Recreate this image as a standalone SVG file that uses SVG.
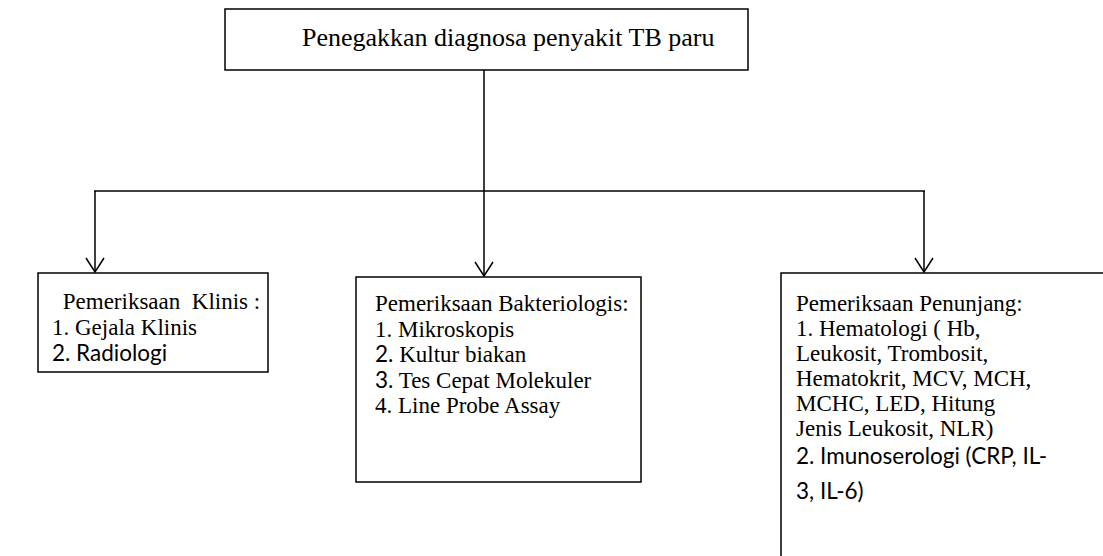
<svg xmlns="http://www.w3.org/2000/svg" width="1103" height="556" viewBox="0 0 1103 556">
<style>
.box{fill:#fff;stroke:#000;stroke-width:1.5}
.ln{fill:none;stroke:#000;stroke-width:1.5}
.t{font-family:'Liberation Serif','Times New Roman',serif;font-size:26px;fill:#000}
.s{font-family:'Liberation Serif','Times New Roman',serif;font-size:23px;fill:#000}
.c{font-family:Lato,'Liberation Sans',sans-serif;font-size:22.5px;fill:#000}
</style>
<defs>
<marker id="arr" markerWidth="16" markerHeight="20" refX="15" refY="10" orient="auto" markerUnits="userSpaceOnUse" viewBox="0 0 16 20">
<path d="M1,1 L15,10 L1,19" fill="none" stroke="#000" stroke-width="1.5"/>
</marker>
</defs>
<rect width="1103" height="556" fill="#fff"/>
<g id="connectors">
<line class="ln" x1="484" y1="70" x2="484" y2="191"/>
<line class="ln" x1="94" y1="191" x2="925" y2="191"/>
<line class="ln" x1="95" y1="191" x2="95" y2="272" marker-end="url(#arr)"/>
<line class="ln" x1="484" y1="191" x2="484" y2="276" marker-end="url(#arr)"/>
<line class="ln" x1="924" y1="191" x2="924" y2="272" marker-end="url(#arr)"/>
</g>
<g id="top">
<rect class="box" x="225" y="9" width="523" height="61"/>
<text class="t" x="302" y="46">Penegakkan diagnosa penyakit TB paru</text>
</g>
<g id="klinis">
<rect class="box" x="38" y="273" width="230" height="99"/>
<text class="s" x="57" y="309" xml:space="preserve"> Pemeriksaan  Klinis :</text>
<text class="s" x="52" y="335">1. Gejala Klinis</text>
<text class="c" x="52" y="361">2. Radiologi</text>
</g>
<g id="bakteriologis">
<rect class="box" x="356" y="277" width="285" height="205"/>
<text class="s" x="375" y="311">Pemeriksaan Bakteriologis:</text>
<text class="s" x="375" y="337">1. Mikroskopis</text>
<text x="375" y="362"><tspan class="c">2.</tspan><tspan class="s"> Kultur biakan</tspan></text>
<text x="375" y="388"><tspan class="c">3.</tspan><tspan class="s"> Tes Cepat Molekuler</tspan></text>
<text class="s" x="375" y="413">4. Line Probe Assay</text>
</g>
<g id="penunjang">
<rect class="box" x="781" y="273" width="340" height="300"/>
<text class="s" x="796" y="311">Pemeriksaan Penunjang:</text>
<text class="s" x="796" y="336">1. Hematologi ( Hb,</text>
<text class="s" x="796" y="361">Leukosit, Trombosit,</text>
<text class="s" x="796" y="386">Hematokrit, MCV, MCH,</text>
<text class="s" x="796" y="411">MCHC, LED, Hitung</text>
<text class="s" x="796" y="436">Jenis Leukosit, NLR)</text>
<text class="c" x="796" y="464">2. Imunoserologi (CRP, IL-</text>
<text class="c" x="796" y="499">3, IL-6)</text>
</g>
</svg>
